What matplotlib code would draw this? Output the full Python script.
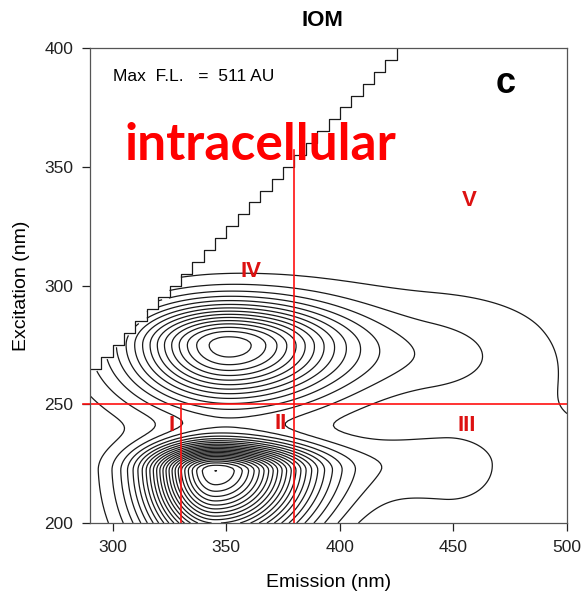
import numpy as np
import matplotlib
matplotlib.use("Agg")
import matplotlib.pyplot as plt

# EEM grid (nm)
em = np.arange(290, 501, 1.0)
ex = np.arange(200, 401, 1.0)

# fluorescence components:
# amplitude (AU), emission centre + left/right width, excitation centre + lower/upper width
comp_amp = [295, 490, 26, 36, 25, 20]
comp_em = [350, 345, 440, 446, 510, 440]
comp_em_lo = [29, 20, 50, 45, 80, 90]
comp_em_hi = [33, 28, 25, 18, 80, 60]
comp_ex = [275, 222, 270, 225, 205, 282]
comp_ex_lo = [17.5, 22, 12, 14, 60, 30]
comp_ex_hi = [12, 7.8, 12, 10, 38, 22]

levels = np.arange(20, 520, 20)

# scatter cut-off, 5 nm excitation bands
band_ex = np.arange(265, 400, 5)
band_cut = band_ex + 30

# region boundaries
region_em = [330, 380]
region_em_top = [250, 357]
region_ex = 250
region_names = ["I", "II", "III", "IV", "V"]


def split_gauss(v, c, lo, hi):
    s = np.where(v < c, lo, hi)
    return np.exp(-0.5 * ((v - c) / s) ** 2)


EM, EX = np.meshgrid(em, ex)
Z = np.zeros_like(EM)
for a, me, sl, sr, mx, sd, su in zip(comp_amp, comp_em, comp_em_lo, comp_em_hi,
                                     comp_ex, comp_ex_lo, comp_ex_hi):
    Z += a * split_gauss(EM, me, sl, sr) * split_gauss(EX, mx, sd, su)

idx = np.searchsorted(band_ex, EX, side="right") - 1
cut = np.where(idx >= 0, band_cut[np.clip(idx, 0, None)], 0)
Z = np.ma.masked_where(EM < cut, Z)

fig = plt.figure(figsize=(5.85, 5.94), dpi=100)
ax = fig.add_axes([90/585, 1-523/594, 477/585, 475/594])

ax.contour(EM, EX, Z, levels=levels, colors="#1a1a1a", linewidths=0.9)

# staircase edge of the blanked region
sx = np.concatenate([[290], np.repeat(band_cut, 2)])
sy = np.concatenate([[265], np.column_stack([band_ex, band_ex + 5]).ravel()])
ax.plot(sx, sy, color="#1a1a1a", lw=0.9)

red = "#ff1010"
for xe, top in zip(region_em, region_em_top):
    ax.plot([xe, xe], [200, top], color=red, lw=1.2)
ax.plot([287, 500], [region_ex, region_ex], color=red, lw=1.2, clip_on=False)

lab_pos = [(326, 241), (374, 242), (456, 241), (361, 306), (457, 336)]
for name, (x, y) in zip(region_names, lab_pos):
    ax.text(x, y, name, color="#dd1111", fontsize=16, fontweight="bold",
            ha="center", va="center", family="Liberation Sans")

ax.text(365, 359, "intracellular", color="#ff0000", fontsize=37, fontweight="bold",
        ha="center", va="center", family="Lato")
ax.text(300, 388, "Max  F.L.   =  511 AU", fontsize=12.5, ha="left", va="center",
        family="Liberation Sans")
ax.text(473, 385, "c", fontsize=26, fontweight="bold", ha="center", va="center",
        family="Liberation Sans")

ax.set_xlim(290, 500)
ax.set_ylim(200, 400)
ax.set_xticks(np.arange(300, 501, 50))
ax.set_yticks(np.arange(200, 401, 50))
ax.tick_params(direction="out", length=6, width=0.9, pad=6, labelsize=12.5,
               colors="#222")
for sp in ax.spines.values():
    sp.set_linewidth(0.9)
    sp.set_color("#555")
ax.set_xlabel("Emission (nm)", fontsize=14, family="Liberation Sans", labelpad=14)
ax.set_ylabel("Excitation (nm)", fontsize=14, family="Liberation Sans", labelpad=10)
for t in ax.get_xticklabels() + ax.get_yticklabels():
    t.set_family("Liberation Sans")

fig.text(322/585, 1-20/594, "IOM", fontsize=16, fontweight="bold", ha="center",
         va="center", family="Liberation Sans")

fig.savefig("out.png", dpi=100)
